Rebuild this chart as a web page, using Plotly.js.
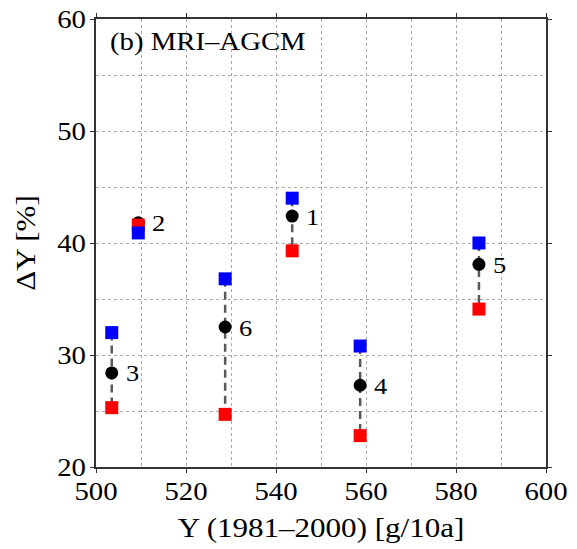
<!DOCTYPE html>
<html>
<head>
<meta charset="utf-8">
<script src="https://cdn.plot.ly/plotly-3.0.1.min.js"></script>
<style>
  html, body { margin: 0; padding: 0; background: #fff; }
  #chart { width: 577px; height: 549px; }
</style>
</head>
<body>
<div id="chart"></div>
<script>
// Region labels and baseline yield (1981-2000) per region
const regionIds = ['1', '2', '3', '4', '5', '6'];
const baseYield = [543.6, 509.4, 503.5, 558.7, 585.1, 528.7];

// Projected yield change [%]: upper member, ensemble mean, lower member
const changeBlue = [44.0, 40.9, 32.0, 30.8, 40.0, 36.8];
const changeMean = [42.4, 41.8, 28.4, 27.3, 38.1, 32.5];
const changeRed  = [39.3, 41.6, 25.3, 22.8, 34.1, 24.7];

// Dashed connectors from the blue to the red member, one segment per region
const segX = [], segY = [];
baseYield.forEach((x, i) => {
  segX.push(x, x, null);
  segY.push(changeBlue[i], changeRed[i], null);
});

const serif = '"Liberation Serif", "DejaVu Serif", serif';

const traces = [
  {
    x: segX, y: segY, mode: 'lines', type: 'scatter',
    line: { color: '#595959', width: 2.5, dash: '8px,5px' },
    hoverinfo: 'skip', showlegend: false
  },
  {
    x: baseYield, y: changeMean, mode: 'markers', type: 'scatter',
    marker: { symbol: 'circle', size: 13, color: '#000' },
    showlegend: false
  },
  {
    x: baseYield, y: changeRed, mode: 'markers', type: 'scatter',
    marker: { symbol: 'square', size: 13, color: '#ff0000' },
    showlegend: false
  },
  {
    x: baseYield, y: changeBlue, mode: 'markers', type: 'scatter',
    marker: { symbol: 'square', size: 13, color: '#0000ff' },
    showlegend: false
  }
];

// Region numbers placed just right of each ensemble-mean dot
const regionLabels = regionIds.map((id, i) => ({
  text: id, x: baseYield[i], y: changeMean[i], xref: 'x', yref: 'y',
  xanchor: 'left', yanchor: 'middle', align: 'left', xshift: 12, yshift: -1,
  showarrow: false, font: { family: serif, size: 23, color: '#000' }
}));

const gridStyle = { gridcolor: '#aaa', griddash: 'dot', gridwidth: 1 };

const layout = {
  width: 577, height: 549,
  margin: { l: 96, r: 31, t: 19, b: 82 },
  paper_bgcolor: '#fff', plot_bgcolor: '#fff',
  font: { family: serif, size: 22, color: '#000' },
  xaxis: Object.assign({
    range: [500, 600], dtick: 20, tick0: 500,
    showgrid: true, zeroline: false,
    showline: true, linecolor: '#333', linewidth: 2, mirror: 'ticks',
    ticks: 'outside', ticklen: 4, tickcolor: '#333', tickwidth: 1,
    ticklabelstandoff: -3,
    tickfont: { family: serif, size: 25 },
    minor: Object.assign({ dtick: 10, showgrid: true, ticks: '' }, gridStyle),
    title: { text: 'Y (1981\u20132000) [g/10a]', font: { family: serif, size: 27 }, standoff: 14 }
  }, gridStyle),
  yaxis: Object.assign({
    range: [20, 60], dtick: 10, tick0: 20,
    showgrid: true, zeroline: false,
    showline: true, linecolor: '#333', linewidth: 2, mirror: 'ticks',
    ticks: 'outside', ticklen: 4, tickcolor: '#333', tickwidth: 1,
    ticklabelstandoff: -1,
    tickfont: { family: serif, size: 25 },
    minor: Object.assign({ dtick: 5, showgrid: true, ticks: '' }, gridStyle),
    title: { text: '\u0394Y [%]', font: { family: serif, size: 27 }, standoff: 18 }
  }, gridStyle),
  annotations: [{
    text: '(b) MRI\u2013AGCM', xref: 'paper', yref: 'paper',
    x: 0.027, y: 0.985, xanchor: 'left', yanchor: 'top', align: 'left', showarrow: false,
    font: { family: serif, size: 25, color: '#000' }
  }].concat(regionLabels)
};

// Widen every text run slightly along its baseline, keeping its anchor point fixed
function widenText(gd, factor) {
  gd.querySelectorAll('svg text').forEach(t => {
    const x = parseFloat(t.getAttribute('x')) || 0;
    const y = parseFloat(t.getAttribute('y')) || 0;
    const tr = t.getAttribute('transform') || '';
    t.setAttribute('transform',
      tr + ' translate(' + x + ',' + y + ') scale(' + factor + ',1) translate(' + (-x) + ',' + (-y) + ')');
  });
}

Plotly.newPlot('chart', traces, layout, { displayModeBar: false, staticPlot: true })
  .then(gd => widenText(gd, 1.15));
</script>
</body>
</html>
